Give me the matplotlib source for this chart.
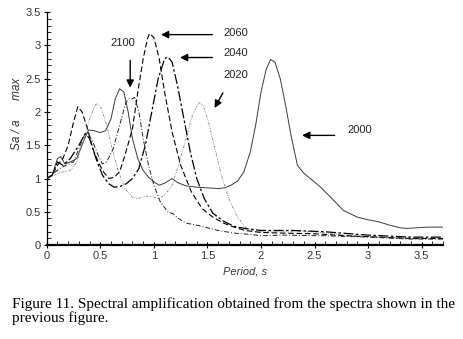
import matplotlib
matplotlib.use('Agg')
import matplotlib.pyplot as plt
from matplotlib.ticker import MultipleLocator, FormatStrFormatter

# spectral amplification curves
x_2000 = [0, 0.05, 0.1, 0.13, 0.17, 0.22, 0.28, 0.34, 0.39, 0.44, 0.5, 0.55, 0.6, 0.64, 0.68,
          0.72, 0.76, 0.8, 0.85, 0.9, 0.95, 1.0, 1.05, 1.1, 1.17, 1.22, 1.3, 1.4, 1.5, 1.6,
          1.66, 1.72, 1.78, 1.84, 1.9, 1.95, 2.0, 2.05, 2.09, 2.13, 2.18, 2.23, 2.28, 2.34,
          2.4, 2.46, 2.55, 2.65, 2.77, 2.9, 3.0, 3.1, 3.2, 3.3, 3.36, 3.45, 3.55, 3.7]
y_2000 = [1.0, 1.05, 1.3, 1.33, 1.22, 1.25, 1.3, 1.55, 1.73, 1.72, 1.69, 1.72, 1.9, 2.2, 2.35,
          2.3, 2.0, 1.6, 1.3, 1.12, 1.02, 0.95, 0.9, 0.93, 1.0, 0.94, 0.89, 0.87, 0.86, 0.85,
          0.86, 0.9, 0.96, 1.1, 1.4, 1.8, 2.3, 2.65, 2.79, 2.75, 2.5, 2.1, 1.65, 1.2,
          1.08, 1.0, 0.88, 0.72, 0.52, 0.42, 0.38, 0.35, 0.3, 0.26, 0.25, 0.26, 0.27, 0.27]

x_2020 = [0, 0.07, 0.15, 0.22, 0.28, 0.34, 0.4, 0.45, 0.47, 0.51, 0.56, 0.61, 0.67, 0.73, 0.8,
          0.85, 0.9, 0.95, 1.0, 1.05, 1.1, 1.17, 1.23, 1.3, 1.36, 1.42, 1.46, 1.51, 1.57, 1.63,
          1.7, 1.78, 1.86, 1.95, 2.2, 2.5, 2.8, 3.1, 3.4, 3.7]
y_2020 = [1.0, 1.05, 1.1, 1.12, 1.25, 1.55, 1.9, 2.1, 2.13, 2.05, 1.8, 1.45, 1.1, 0.85, 0.72,
          0.7, 0.72, 0.74, 0.72, 0.7, 0.75, 0.9, 1.2, 1.6, 1.95, 2.14, 2.1, 1.85, 1.45, 1.05,
          0.7, 0.42, 0.26, 0.2, 0.2, 0.2, 0.15, 0.12, 0.1, 0.1]

x_2040 = [0, 0.05, 0.1, 0.15, 0.22, 0.3, 0.36, 0.4, 0.46, 0.52, 0.58, 0.63, 0.68, 0.74, 0.8,
          0.86, 0.92, 0.98, 1.04, 1.1, 1.13, 1.17, 1.22, 1.28, 1.34, 1.4, 1.47, 1.55, 1.65,
          1.75, 1.85, 2.0, 2.3, 2.6, 3.0, 3.4, 3.7]
y_2040 = [1.0, 1.05, 1.25, 1.2, 1.3, 1.5, 1.68, 1.6, 1.3, 1.05, 0.92, 0.87, 0.88, 0.92, 1.0,
          1.15, 1.5, 2.0, 2.5, 2.8, 2.83, 2.75, 2.4, 1.9, 1.4, 1.0, 0.7, 0.48, 0.36,
          0.28, 0.25, 0.22, 0.22, 0.2, 0.15, 0.12, 0.12]

x_2060 = [0, 0.05, 0.1, 0.15, 0.2, 0.25, 0.29, 0.33, 0.38, 0.43, 0.48, 0.53, 0.58, 0.63, 0.68,
          0.73, 0.8, 0.85, 0.9, 0.94, 0.96, 1.0, 1.05, 1.1, 1.17, 1.25, 1.35, 1.45, 1.55, 1.65,
          1.75, 1.85, 2.0, 2.2, 2.5, 2.8, 3.1, 3.4, 3.7]
y_2060 = [1.0, 1.05, 1.2, 1.3, 1.5, 1.85, 2.08, 2.0, 1.75, 1.45, 1.25, 1.1, 1.0, 1.02, 1.1,
          1.35, 1.75, 2.3, 2.8, 3.1, 3.18, 3.12, 2.8, 2.3, 1.7, 1.2, 0.8, 0.55, 0.42, 0.33,
          0.27, 0.22, 0.19, 0.18, 0.17, 0.14, 0.12, 0.1, 0.1]

x_2100 = [0, 0.08, 0.12, 0.18, 0.25, 0.3, 0.35, 0.38, 0.43, 0.48, 0.52, 0.56, 0.62, 0.68, 0.74,
          0.77, 0.8, 0.82, 0.86, 0.9, 0.95, 1.0, 1.06, 1.13, 1.18, 1.23, 1.3, 1.4, 1.5, 1.6,
          1.75, 1.9, 2.0, 2.2, 2.6, 3.0, 3.4, 3.7]
y_2100 = [1.0, 1.1, 1.15, 1.2, 1.25, 1.45, 1.65, 1.7, 1.55, 1.35, 1.22, 1.25, 1.45, 1.8, 2.15,
          2.2, 2.2, 2.22, 2.0, 1.6, 1.2, 0.9, 0.65, 0.5, 0.47, 0.4, 0.33, 0.3, 0.26, 0.22,
          0.18, 0.16, 0.14, 0.15, 0.14, 0.12, 0.09, 0.09]

caption = ("Figure 11. Spectral amplification obtained from the spectra shown in the\n"
           "previous figure.")

plt.rcParams['font.family'] = ['Liberation Sans', 'DejaVu Sans']

fig = plt.figure(figsize=(4.63, 3.39), dpi=100)
ax = fig.add_axes([0.101, 0.277, 0.856, 0.687])

ax.plot(x_2000, y_2000, color='#3a3a3a', lw=0.7)
ax.plot(x_2020, y_2020, color='#808080', lw=0.6, dashes=(3, 1.5, 1, 1.5, 1, 1.5))
ax.plot(x_2040, y_2040, color='black', lw=0.9, dashes=(8, 2, 2, 2))
ax.plot(x_2060, y_2060, color='black', lw=0.8, dashes=(5, 2.5))
ax.plot(x_2100, y_2100, color='#222222', lw=0.7, dashes=(5, 2, 1, 2))

arrow = dict(arrowstyle='-|>', color='black', lw=1.0, mutation_scale=11)
fs = 8
ax.annotate('', xy=(1.04, 3.163), xytext=(1.573, 3.163), arrowprops=arrow)
ax.text(1.648, 3.19, '2060', fontsize=fs, va='center', color='#222222')
ax.annotate('', xy=(1.218, 2.819), xytext=(1.573, 2.819), arrowprops=arrow)
ax.text(1.648, 2.88, '2040', fontsize=fs, va='center', color='#222222')
ax.annotate('', xy=(1.554, 2.024), xytext=(1.657, 2.324), arrowprops=arrow)
ax.text(1.648, 2.55, '2020', fontsize=fs, va='center', color='#222222')
ax.annotate('', xy=(2.358, 1.649), xytext=(2.713, 1.649), arrowprops=arrow)
ax.text(2.806, 1.724, '2000', fontsize=fs, va='center', color='#222222')
ax.annotate('', xy=(0.779, 2.324), xytext=(0.779, 2.819), arrowprops=arrow)
ax.text(0.713, 3.03, '2100', fontsize=fs, va='center', ha='center', color='#222222')

ax.set_xlim(0, 3.7)
ax.set_ylim(0, 3.5)
ax.xaxis.set_major_locator(MultipleLocator(0.5))
ax.xaxis.set_minor_locator(MultipleLocator(0.1))
ax.yaxis.set_major_locator(MultipleLocator(0.5))
ax.yaxis.set_minor_locator(MultipleLocator(0.1))
ax.xaxis.set_major_formatter(FormatStrFormatter('%g'))
ax.yaxis.set_major_formatter(FormatStrFormatter('%g'))
ax.tick_params(which='major', direction='inout', length=5, width=0.8, labelsize=fs,
               labelcolor='#333333', pad=2)
ax.tick_params(which='minor', direction='in', length=3, width=0.6)
for s in ['top', 'right']:
    ax.spines[s].set_visible(False)
ax.spines['bottom'].set_linewidth(1.6)
ax.spines['left'].set_linewidth(0.9)

ax.set_xlabel('Period, s', fontsize=fs, style='italic', color='#333333', labelpad=4)
fig.text(0.037, 0.665, 'Sa / a      max', rotation=90, fontsize=8.5, style='italic',
         color='#333333', ha='center', va='center')

fig.text(0.026, 0.083, caption, fontsize=11, family=['Liberation Serif'],
         va='center', ha='left', linespacing=1.05)

fig.savefig('out.png', dpi=100)
